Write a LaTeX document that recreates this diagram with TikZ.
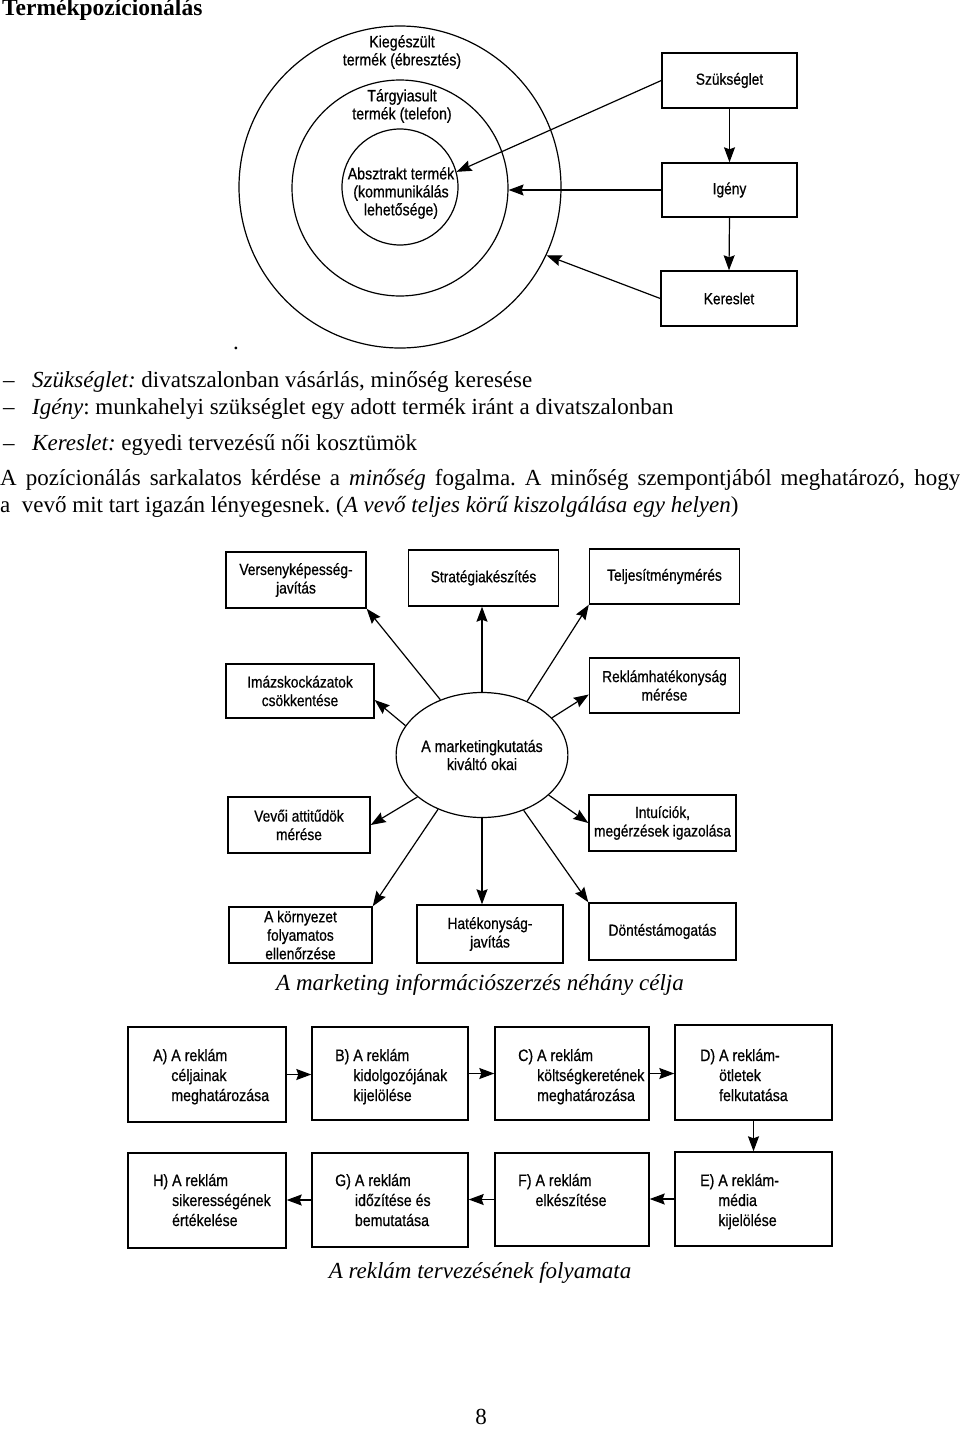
\documentclass[tikz,border=0pt]{standalone}
\usepackage{fontspec}
\setmainfont{Liberation Serif}
\newfontfamily\dg[FakeStretch=0.86,FakeBold=0.6]{Liberation Sans}
\usetikzlibrary{arrows.meta,shapes.geometric}
\frenchspacing
\begin{document}
\begin{tikzpicture}[x=1pt,y=-1pt,
  box/.style={draw, line width=1.4pt, inner sep=0pt, align=center, font=\dg\fontsize{16}{18.5}\selectfont},
  ring/.style={draw, circle, line width=1.2pt, inner sep=0pt},
  arr/.style={line width=1.2pt, -{Stealth[length=15pt,width=11pt,inset=2pt]}},
  body/.style={anchor=base west, inner sep=0pt, font=\fontsize{23}{27}\selectfont},
  captext/.style={anchor=base, inner sep=0pt, font=\fontsize{23}{27}\selectfont\itshape},
  ctext/.style={inner sep=0pt, align=center, font=\dg\fontsize{16.5}{18}\selectfont},
  steptext/.style={anchor=base west, inner sep=0pt, font=\dg\fontsize{16.5}{20}\selectfont}
]
\fill[white] (0,0) rectangle (960,1448);
\useasboundingbox (0,0) rectangle (960,1448);

% title
\node[anchor=base west, inner sep=0pt, font=\fontsize{23.5}{27}\selectfont\bfseries] (title) at (2,16) {Termékpozícionálás};

% concentric circles
\node[ring, minimum size=322pt] (outer) at (400,187) {};
\node[ring, minimum size=216pt] (mid) at (400,188) {};
\node[ring, minimum size=116pt] (inner) at (400,187) {};
\node[ctext] (t1) at (402,52) {Kiegészült\\termék (ébresztés)};
\node[ctext] (t2) at (402,106) {Tárgyiasult\\termék (telefon)};
\node[ctext] (t3) at (401,193) {Absztrakt termék\\(kommunikálás\\lehetősége)};

% right boxes
\node[box, minimum width=135pt, minimum height=55pt] (szuk) at (729.5,80.5) {Szükséglet};
\node[box, minimum width=135pt, minimum height=54pt] (igeny) at (729.5,190) {Igény};
\node[box, minimum width=136pt, minimum height=55pt] (ker) at (729,298.5) {Kereslet};
\draw[arr] (szuk.south) -- (igeny.north);
\draw[arr] (igeny.south) -- (ker.north);
\draw[arr] (szuk.west) -- (inner.15);
\draw[arr] (igeny.west) -- (igeny.west -| mid.east);
\draw[arr] (ker.west) -- (outer.-25.5);

\node[inner sep=0pt, font=\fontsize{23}{27}\selectfont] (dot) at (236,348) {.};

% body text
\node[body] (d1) at (3,387) {–};
\node[body] (l1) at (32,387) {\textit{Szükséglet:} divatszalonban vásárlás, minőség keresése};
\node[body] (d2) at (3,414) {–};
\node[body] (l2) at (32,414) {\textit{Igény}: munkahelyi szükséglet egy adott termék iránt a divatszalonban};
\node[body] (d3) at (3,450) {–};
\node[body] (l3) at (32,450) {\textit{Kereslet:} egyedi tervezésű női kosztümök};
\node[body] (l4) at (0,485) {\makebox[960pt][s]{A pozícionálás sarkalatos kérdése a \textit{minőség} fogalma. A minőség szempontjából meghatározó, hogy}};
\node[body] (l5) at (0,512) {a\ \ vevő mit tart igazán lényegesnek. (\textit{A vevő teljes körű kiszolgálása egy helyen})};

% marketing research diagram
\node[draw, ellipse, line width=1.2pt, minimum width=130pt, minimum height=125pt, inner sep=0pt, align=center, font=\dg\fontsize{16.5}{18}\selectfont] (mk) at (482,755) {A marketingkutatás\\kiváltó okai};
\node[box, minimum width=140pt, minimum height=56pt] (vers) at (296,580) {Versenyképesség-\\javítás};
\node[box, minimum width=150pt, minimum height=56pt] (strat) at (483.5,578) {Stratégiakészítés};
\node[box, minimum width=150pt, minimum height=55pt] (telj) at (664.5,576.5) {Teljesítménymérés};
\node[box, minimum width=148pt, minimum height=54pt] (imazs) at (300,691) {Imázskockázatok\\csökkentése};
\node[box, minimum width=150pt, minimum height=55pt] (rekl) at (664.5,685.5) {Reklámhatékonyság\\mérése};
\node[box, minimum width=142pt, minimum height=56pt] (vevoi) at (299,825) {Vevői attitűdök\\mérése};
\node[box, minimum width=147pt, minimum height=56pt] (intu) at (662.5,823) {Intuíciók,\\megérzések igazolása};
\node[box, minimum width=143pt, minimum height=56pt] (korny) at (300.5,935) {A környezet\\folyamatos\\ellenőrzése};
\node[box, minimum width=146pt, minimum height=58pt] (hatek) at (490,934) {Hatékonyság-\\javítás};
\node[box, minimum width=147pt, minimum height=57pt] (dont) at (662.5,931.5) {Döntéstámogatás};

\draw[arr] (mk.127) -- (vers.south east);
\draw[arr] (mk.north) -- (mk.north |- strat.south);
\draw[arr] (mk.50) -- (telj.south west);
\draw[arr] (mk.159) -- ([yshift=-9pt]imazs.east);
\draw[arr] (mk.28) -- ([yshift=-9pt]rekl.west);
\draw[arr] (mk.213) -- (vevoi.east);
\draw[arr] (mk.329) -- (intu.west);
\draw[arr] (mk.231) -- (korny.north east);
\draw[arr] (mk.south) -- (mk.south |- hatek.north);
\draw[arr] (mk.307) -- (dont.north west);

\node[captext] (cap1) at (480,990) {A marketing információszerzés néhány célja};

% advertising planning process
\node[box, minimum width=158pt, minimum height=95pt] (A) at (207,1074.5) {};
\node[box, minimum width=156pt, minimum height=93pt] (B) at (390,1073.5) {};
\node[box, minimum width=154pt, minimum height=93pt] (C) at (572,1073.5) {};
\node[box, minimum width=157pt, minimum height=95pt] (D) at (753.5,1072.5) {};
\node[box, minimum width=158pt, minimum height=95pt] (H) at (207,1200.5) {};
\node[box, minimum width=156pt, minimum height=94pt] (G) at (390,1200) {};
\node[box, minimum width=154pt, minimum height=93pt] (F) at (572,1199.5) {};
\node[box, minimum width=157pt, minimum height=94pt] (E) at (753.5,1199) {};

\node[steptext] (tA) at (153,1061) {\begin{tabular}[t]{@{}l@{\ }l@{}}A) & A reklám\\ & céljainak\\ & meghatározása\end{tabular}};
\node[steptext] (tB) at (335,1061) {\begin{tabular}[t]{@{}l@{\ }l@{}}B) & A reklám\\ & kidolgozójának\\ & kijelölése\end{tabular}};
\node[steptext] (tC) at (518,1061) {\begin{tabular}[t]{@{}l@{\ }l@{}}C) & A reklám\\ & költségkeretének\\ & meghatározása\end{tabular}};
\node[steptext] (tD) at (700,1061) {\begin{tabular}[t]{@{}l@{\ }l@{}}D) & A reklám-\\ & ötletek\\ & felkutatása\end{tabular}};
\node[steptext] (tH) at (153,1186) {\begin{tabular}[t]{@{}l@{\ }l@{}}H) & A reklám\\ & sikerességének\\ & értékelése\end{tabular}};
\node[steptext] (tG) at (335,1186) {\begin{tabular}[t]{@{}l@{\ }l@{}}G) & A reklám\\ & időzítése és\\ & bemutatása\end{tabular}};
\node[steptext] (tF) at (518,1186) {\begin{tabular}[t]{@{}l@{\ }l@{}}F) & A reklám\\ & elkészítése\end{tabular}};
\node[steptext] (tE) at (700,1186) {\begin{tabular}[t]{@{}l@{\ }l@{}}E) & A reklám-\\ & média\\ & kijelölése\end{tabular}};

\draw[arr] (A.east) -- (A.east -| B.west);
\draw[arr] (B.east) -- (B.east -| C.west);
\draw[arr] (C.east) -- (C.east -| D.west);
\draw[arr] (D.south) -- (D.south |- E.north);
\draw[arr] (E.west) -- (E.west -| F.east);
\draw[arr] (F.west) -- (F.west -| G.east);
\draw[arr] (G.west) -- (G.west -| H.east);

\node[captext] (cap2) at (480,1278) {A reklám tervezésének folyamata};
\node[anchor=base, inner sep=0pt, font=\fontsize{23}{27}\selectfont] (pg) at (481,1424) {8};
\end{tikzpicture}
\end{document}
